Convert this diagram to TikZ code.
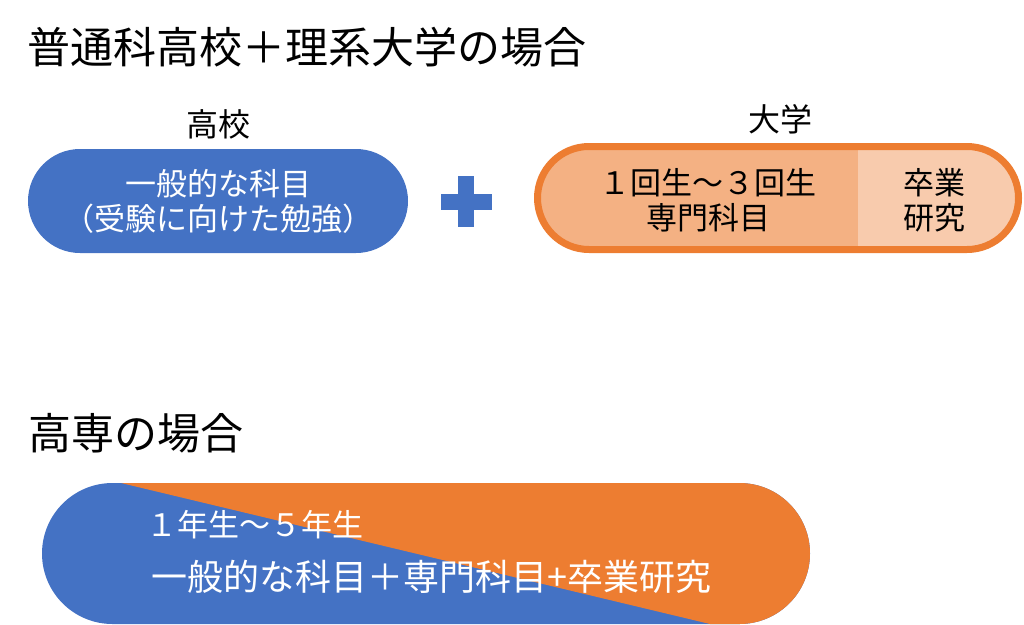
\documentclass[tikz,border=0pt]{standalone}
\usepackage{fontspec}
\newfontfamily\jpfont{Noto Sans CJK JP}
\usetikzlibrary{positioning}
\usetikzlibrary{shapes.misc}
\usetikzlibrary{calc}
\definecolor{kokoblue}{HTML}{4472C4}
\definecolor{uniedge}{HTML}{ED7D31}
\definecolor{unifill}{HTML}{F4B183}
\definecolor{unilight}{HTML}{F8CBAD}
\newcommand{\jpsize}[1]{\fontsize{#1}{#1*1.15}\selectfont}

\begin{document}
\begin{tikzpicture}[x=1pt, y=-1pt, font=\jpfont,
	heading/.style={anchor=west, inner sep=0pt, font=\jpfont\fontsize{43}{50}\selectfont},
	pill/.style={rounded rectangle, inner sep=0pt, minimum width=#1},
	pilltext/.style={align=center, inner sep=0pt, font=\jpfont\fontsize{31}{35}\selectfont}]
		\useasboundingbox (0,0) rectangle (1024,624);
		\node [heading] at (27,47) (futsutitle) {普通科高校＋理系大学の場合};
		\node [heading] at (28,433) (kosentitle) {高専の場合};
		\node [pill=380, minimum height=104, fill=kokoblue, text=white, pilltext] at (218,201) (ippan) {一般的な科目\\（受験に向けた勉強）};
		\node [inner sep=0pt, font=\jpfont\fontsize{32}{36}\selectfont, above=9pt of ippan] (kokolabel) {高校};
		\fill [kokoblue] (458,176) rectangle (474,227); \fill [kokoblue] (440.5,193.5) rectangle (491.5,209.5);
		\node [pill=481, minimum height=103, fill=unifill, draw=uniedge, line width=7pt,
			path picture={\fill [unilight] ($(path picture bounding box.south west)+(320.5,0)$) rectangle (path picture bounding box.north east);}] at (778,198) (daigaku) {};
		\node [inner sep=0pt, font=\jpfont\fontsize{32}{36}\selectfont] at (780,119) (daigakulabel) {大学};
		\node [pilltext] at (708,200) (senmon) {１回生～３回生\\専門科目};
		\node [pilltext] at (934,200) (sotsugyo) {卒業\\研究};
		\node [pill=768, minimum height=141, fill=kokoblue,
			path picture={\fill [uniedge] ($(path picture bounding box.north west)+(79,0)$) -- ($(path picture bounding box.south west)+(668,0)$) -- (path picture bounding box.south east) -- (path picture bounding box.north east) -- cycle;}] at (426,553.5) (kosen) {};
		\node [anchor=west, inner sep=0pt, text=white, font=\jpfont\fontsize{31}{35}\selectfont] at (146,525) (kosenyear) {１年生～５年生};
		\node [anchor=west, inner sep=0pt, text=white, font=\jpfont\fontsize{36}{40}\selectfont] at (151,577) (kosensubj) {一般的な科目＋専門科目+卒業研究};
		\end{tikzpicture}
\end{document}
